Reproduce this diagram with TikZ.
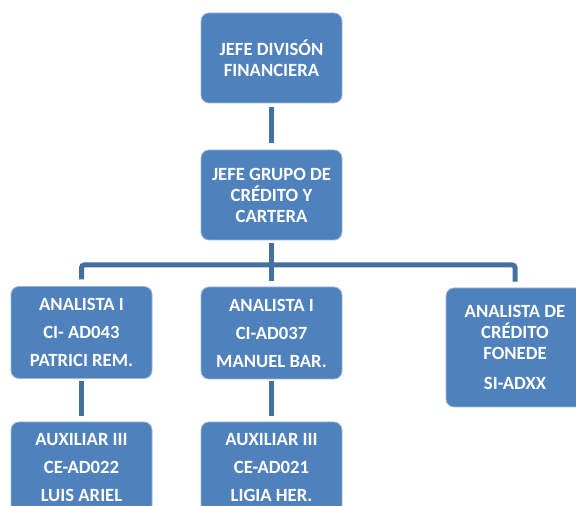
\documentclass[tikz,border=0pt]{standalone}
\usepackage{fontspec}
\setmainfont{Carlito}
\definecolor{boxblue}{HTML}{4F81BD}
\definecolor{boxedge}{HTML}{9DB7DA}
\definecolor{lineblue}{HTML}{43709F}
\begin{document}
\begin{tikzpicture}[
		x=0.75pt, y=-0.75pt,
		post/.style={draw=boxedge, line width=0.6pt, fill=boxblue, rounded corners=6pt,
			text=white, font=\fontsize{14}{15.75}\selectfont\bfseries, align=center,
			minimum width=105.75pt, minimum height=67.5pt, inner sep=2pt},
		conn/.style={draw=lineblue, line width=3.75pt}
		]
		
		\useasboundingbox (0,0) rectangle (576,506);
		\clip (0,0) rectangle (576,506);
		
		\node[post] (jefe) at (271.5,58) {JEFE DIVISÓN\\FINANCIERA};
		\node[post] (grupo) at (271.5,195) {JEFE GRUPO DE\\CRÉDITO Y\\CARTERA};
		\node[post, minimum height=69pt] (ana1) at (81.5,332.5) {ANALISTA I\\[5.25pt]CI- AD043\\[5.25pt]PATRICI REM.};
		\node[post, minimum height=69pt] (ana2) at (271.5,333) {ANALISTA I\\[5.25pt]CI-AD037\\[5.25pt]MANUEL BAR.};
		\node[post, minimum height=89.25pt, minimum width=103.5pt] (fonede) at (515,347.5) {ANALISTA DE\\CRÉDITO\\FONEDE\\[6.75pt]SI-ADXX};
		\node[post, minimum height=69pt] (aux1) at (81.5,468) {AUXILIAR III\\[5.25pt]CE-AD022\\[5.25pt]LUIS ARIEL};
		\node[post, minimum height=69pt] (aux2) at (271.5,468) {AUXILIAR III\\[5.25pt]CE-AD021\\[5.25pt]LIGIA HER.};
		
		\coordinate (bus) at (271.5,265);
		
		\draw[conn, shorten <=3pt, shorten >=5pt] (jefe.south) -- (grupo.north);
		\draw[conn, shorten <=2pt] (grupo.south) -- (bus);
		\draw[conn, rounded corners=2pt, shorten <=5pt, shorten >=4.5pt] (ana1.north) |- (bus) -| (fonede.north);
		\draw[conn, shorten >=4pt] (bus) -- (ana2.north);
		\draw[conn, shorten <=1.5pt, shorten >=4.5pt] (ana1.south) -- (aux1.north);
		\draw[conn, shorten <=1.5pt, shorten >=4.5pt] (ana2.south) -- (aux2.north);
		
	\end{tikzpicture}
\end{document}
